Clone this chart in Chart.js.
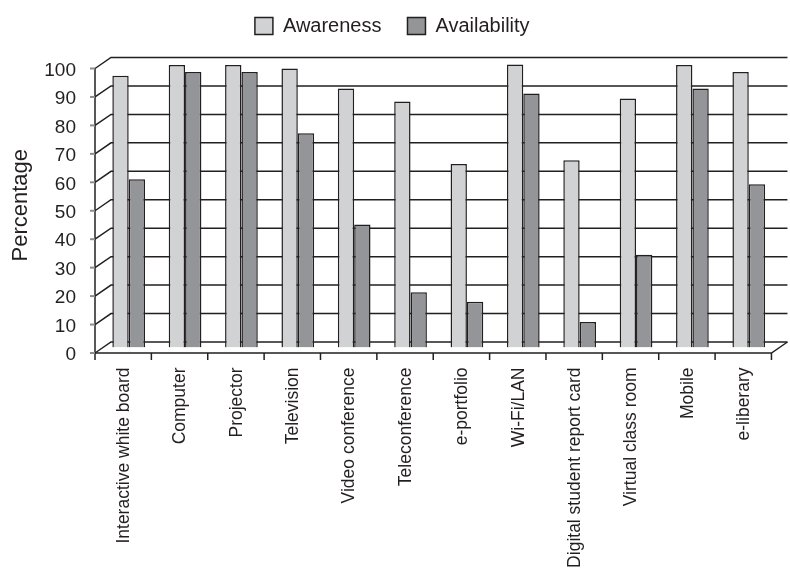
<!DOCTYPE html>
<html>
<head>
<meta charset="utf-8">
<script src="https://cdn.jsdelivr.net/npm/chart.js@4.4.1/dist/chart.umd.min.js"></script>
<style>
  html, body { margin: 0; padding: 0; background: #fff; }
  #wrap { width: 790px; height: 568px; }
</style>
</head>
<body>
<div id="wrap"><canvas id="chart"></canvas></div>
<script>
const categories = [
    'Interactive white board', 'Computer', 'Projector', 'Television',
    'Video conference', 'Teleconference', 'e-portfolio', 'Wi-Fi/LAN',
    'Digital student report card', 'Virtual class room', 'Mobile', 'e-liberary'
];
const awareness = [95.5, 99.3, 99.3, 98.1, 91, 86.5, 64.5, 99.5, 65.8, 87.5, 99.3, 96.8];
const availability = [59.1, 96.8, 96.8, 75.3, 43.2, 19.4, 16.1, 89.3, 9, 32.6, 91, 57.4];
const yTickValues = [0, 10, 20, 30, 40, 50, 60, 70, 80, 90, 100];

const FONT = '"Liberation Sans", Arial, Helvetica, sans-serif';
const INK = '#231f20';
// offsets of the front edge and the back wall from the plane the bars stand in
const FRONT = { dx: -5.5, dy: 5.5 };
const BACK = { dx: 10.5, dy: -5.5 };

const wallPlugin = {
    id: 'walls',
    beforeDatasetsDraw(chart) {
        const { ctx, chartArea: a, scales: { x, y } } = chart;
        const fx = a.left + FRONT.dx;
        const bx = a.left + BACK.dx;
        const y0 = y.getPixelForValue(0);
        const yTop = y.getPixelForValue(100);
        ctx.save();
        ctx.lineWidth = 1.5;
        ctx.strokeStyle = INK;

        // back wall + left wall lines
        y.ticks.forEach(t => {
            const py = y.getPixelForValue(t.value);
            ctx.beginPath();
            ctx.moveTo(fx, py + FRONT.dy);
            ctx.lineTo(bx, py + BACK.dy);
            ctx.lineTo(a.right + BACK.dx, py + BACK.dy);
            ctx.stroke();
        });

        // front value axis
        ctx.beginPath();
        ctx.moveTo(fx, yTop + FRONT.dy);
        ctx.lineTo(fx, y0 + FRONT.dy);
        ctx.stroke();

        // floor front edge and right side
        ctx.beginPath();
        ctx.moveTo(fx, y0 + FRONT.dy);
        ctx.lineTo(a.right + FRONT.dx, y0 + FRONT.dy);
        ctx.lineTo(a.right + BACK.dx, y0 + BACK.dy);
        ctx.stroke();

        // category ticks
        for (let i = 0; i <= categories.length; i++) {
            const px = x.getPixelForValue(i - 0.5) + FRONT.dx;
            ctx.beginPath();
            ctx.moveTo(px, y0 + FRONT.dy);
            ctx.lineTo(px, y0 + FRONT.dy + 7);
            ctx.stroke();
        }

        // grey value ticks
        ctx.strokeStyle = '#8c8c8c';
        ctx.lineWidth = 2;
        y.ticks.forEach(t => {
            const py = y.getPixelForValue(t.value) + FRONT.dy;
            ctx.beginPath();
            ctx.moveTo(fx - 5, py);
            ctx.lineTo(fx, py);
            ctx.stroke();
        });
        ctx.restore();
    }
};

const ctx = document.getElementById('chart').getContext('2d');
new Chart(ctx, {
    type: 'bar',
    data: {
        labels: categories,
        datasets: [{
            label: 'Awareness',
            data: awareness,
            backgroundColor: '#d1d2d4',
            borderColor: INK,
            borderWidth: 1.5
        }, {
            label: 'Availability',
            data: availability,
            backgroundColor: '#939598',
            borderColor: INK,
            borderWidth: 1.5
        }]
    },
    options: {
        responsive: true,
        maintainAspectRatio: false,
        animation: false,
        layout: { padding: { top: -11, left: 0, right: 5.5, bottom: 0 } },
        datasets: {
            bar: { barPercentage: 1, categoryPercentage: 0.58 }
        },
        plugins: {
            legend: {
                position: 'top',
                labels: {
                    color: INK,
                    font: { family: FONT, size: 20 },
                    boxWidth: 18,
                    boxHeight: 17,
                    padding: 26
                }
            },
            // empty spacer between legend and plot
            subtitle: {
                display: true,
                text: '',
                weight: 500,
                font: { size: 17, lineHeight: 1 },
                padding: 0
            },
            tooltip: { enabled: false }
        },
        scales: {
            x: {
                grid: { display: false, drawTicks: false },
                border: { display: false },
                ticks: {
                    color: INK,
                    font: { family: FONT, size: 17.5 },
                    minRotation: 90,
                    maxRotation: 90,
                    autoSkip: false,
                    padding: 20,
                    labelOffset: -4.5
                },
                afterFit: scale => { scale.height = 220.5; }
            },
            y: {
                min: 0,
                max: 100,
                afterBuildTicks: scale => {
                    scale.ticks = yTickValues.map(v => ({ value: v }));
                },
                grid: { display: false, drawTicks: false },
                border: { display: false },
                ticks: {
                    color: INK,
                    font: { family: FONT, size: 19 },
                    padding: 24.5,
                    labelOffset: 7.5
                },
                title: {
                    display: true,
                    text: 'Percentage',
                    color: INK,
                    font: { family: FONT, size: 22 },
                    padding: { top: 8, bottom: 0 }
                },
                afterFit: scale => {
                    scale.width = 100.5;
                    scale.paddingTop = 63;
                }
            }
        }
    },
    plugins: [wallPlugin]
});
</script>
</body>
</html>
